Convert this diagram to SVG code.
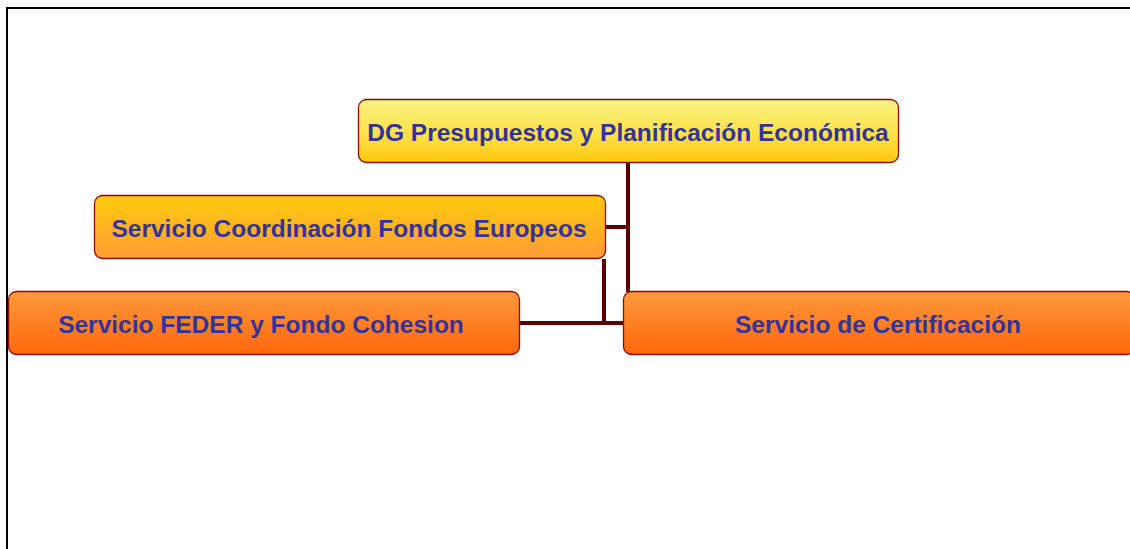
<svg xmlns="http://www.w3.org/2000/svg" width="1130" height="549" viewBox="0 0 1130 549">
<defs>
<linearGradient id="gTop" x1="0" y1="0" x2="0" y2="1"><stop offset="0" stop-color="#f8f282"/><stop offset="0.55" stop-color="#fde24a"/><stop offset="1" stop-color="#ffc80c"/></linearGradient>
<linearGradient id="gMid" x1="0" y1="0" x2="0" y2="1"><stop offset="0" stop-color="#ffcc0c"/><stop offset="1" stop-color="#ff9c34"/></linearGradient>
<linearGradient id="gLow" x1="0" y1="0" x2="0" y2="1"><stop offset="0" stop-color="#ff9a3c"/><stop offset="1" stop-color="#ff660c"/></linearGradient>
<style>
.box{stroke:#8b0a0a;stroke-width:1.3}
.lbl{font-family:"Liberation Sans",Arial,sans-serif;font-weight:bold;font-size:24.5px;fill:#333399;text-anchor:middle}
.con{stroke:#5c0000;stroke-width:4;fill:none}
</style>
</defs>
<rect width="1130" height="549" fill="#ffffff"/>
<path d="M7 549 V8 H1130" fill="none" stroke="#000" stroke-width="2"/>
<g id="connectors">
<line class="con" x1="628" y1="163" x2="628" y2="292"/>
<line class="con" x1="605" y1="227" x2="630" y2="227"/>
<line class="con" x1="604" y1="259" x2="604" y2="325"/>
<line class="con" x1="519" y1="323" x2="623" y2="323"/>
</g>
<g id="n-dg">
<rect class="box" x="358.5" y="99.5" width="540" height="63" rx="8" fill="url(#gTop)"/>
<text class="lbl" x="628" y="141">DG Presupuestos y Planificación Económica</text>
</g>
<g id="n-coord">
<rect class="box" x="94.5" y="195.5" width="511" height="63" rx="8" fill="url(#gMid)"/>
<text class="lbl" x="349" y="237">Servicio Coordinación Fondos Europeos</text>
</g>
<g id="n-feder">
<rect class="box" x="8.5" y="291.5" width="511" height="63" rx="8" fill="url(#gLow)"/>
<text class="lbl" x="261" y="333">Servicio FEDER y Fondo Cohesion</text>
</g>
<g id="n-cert">
<rect class="box" x="623.5" y="291.5" width="511" height="63" rx="8" fill="url(#gLow)"/>
<text class="lbl" x="878" y="333">Servicio de Certificación</text>
</g>
</svg>
